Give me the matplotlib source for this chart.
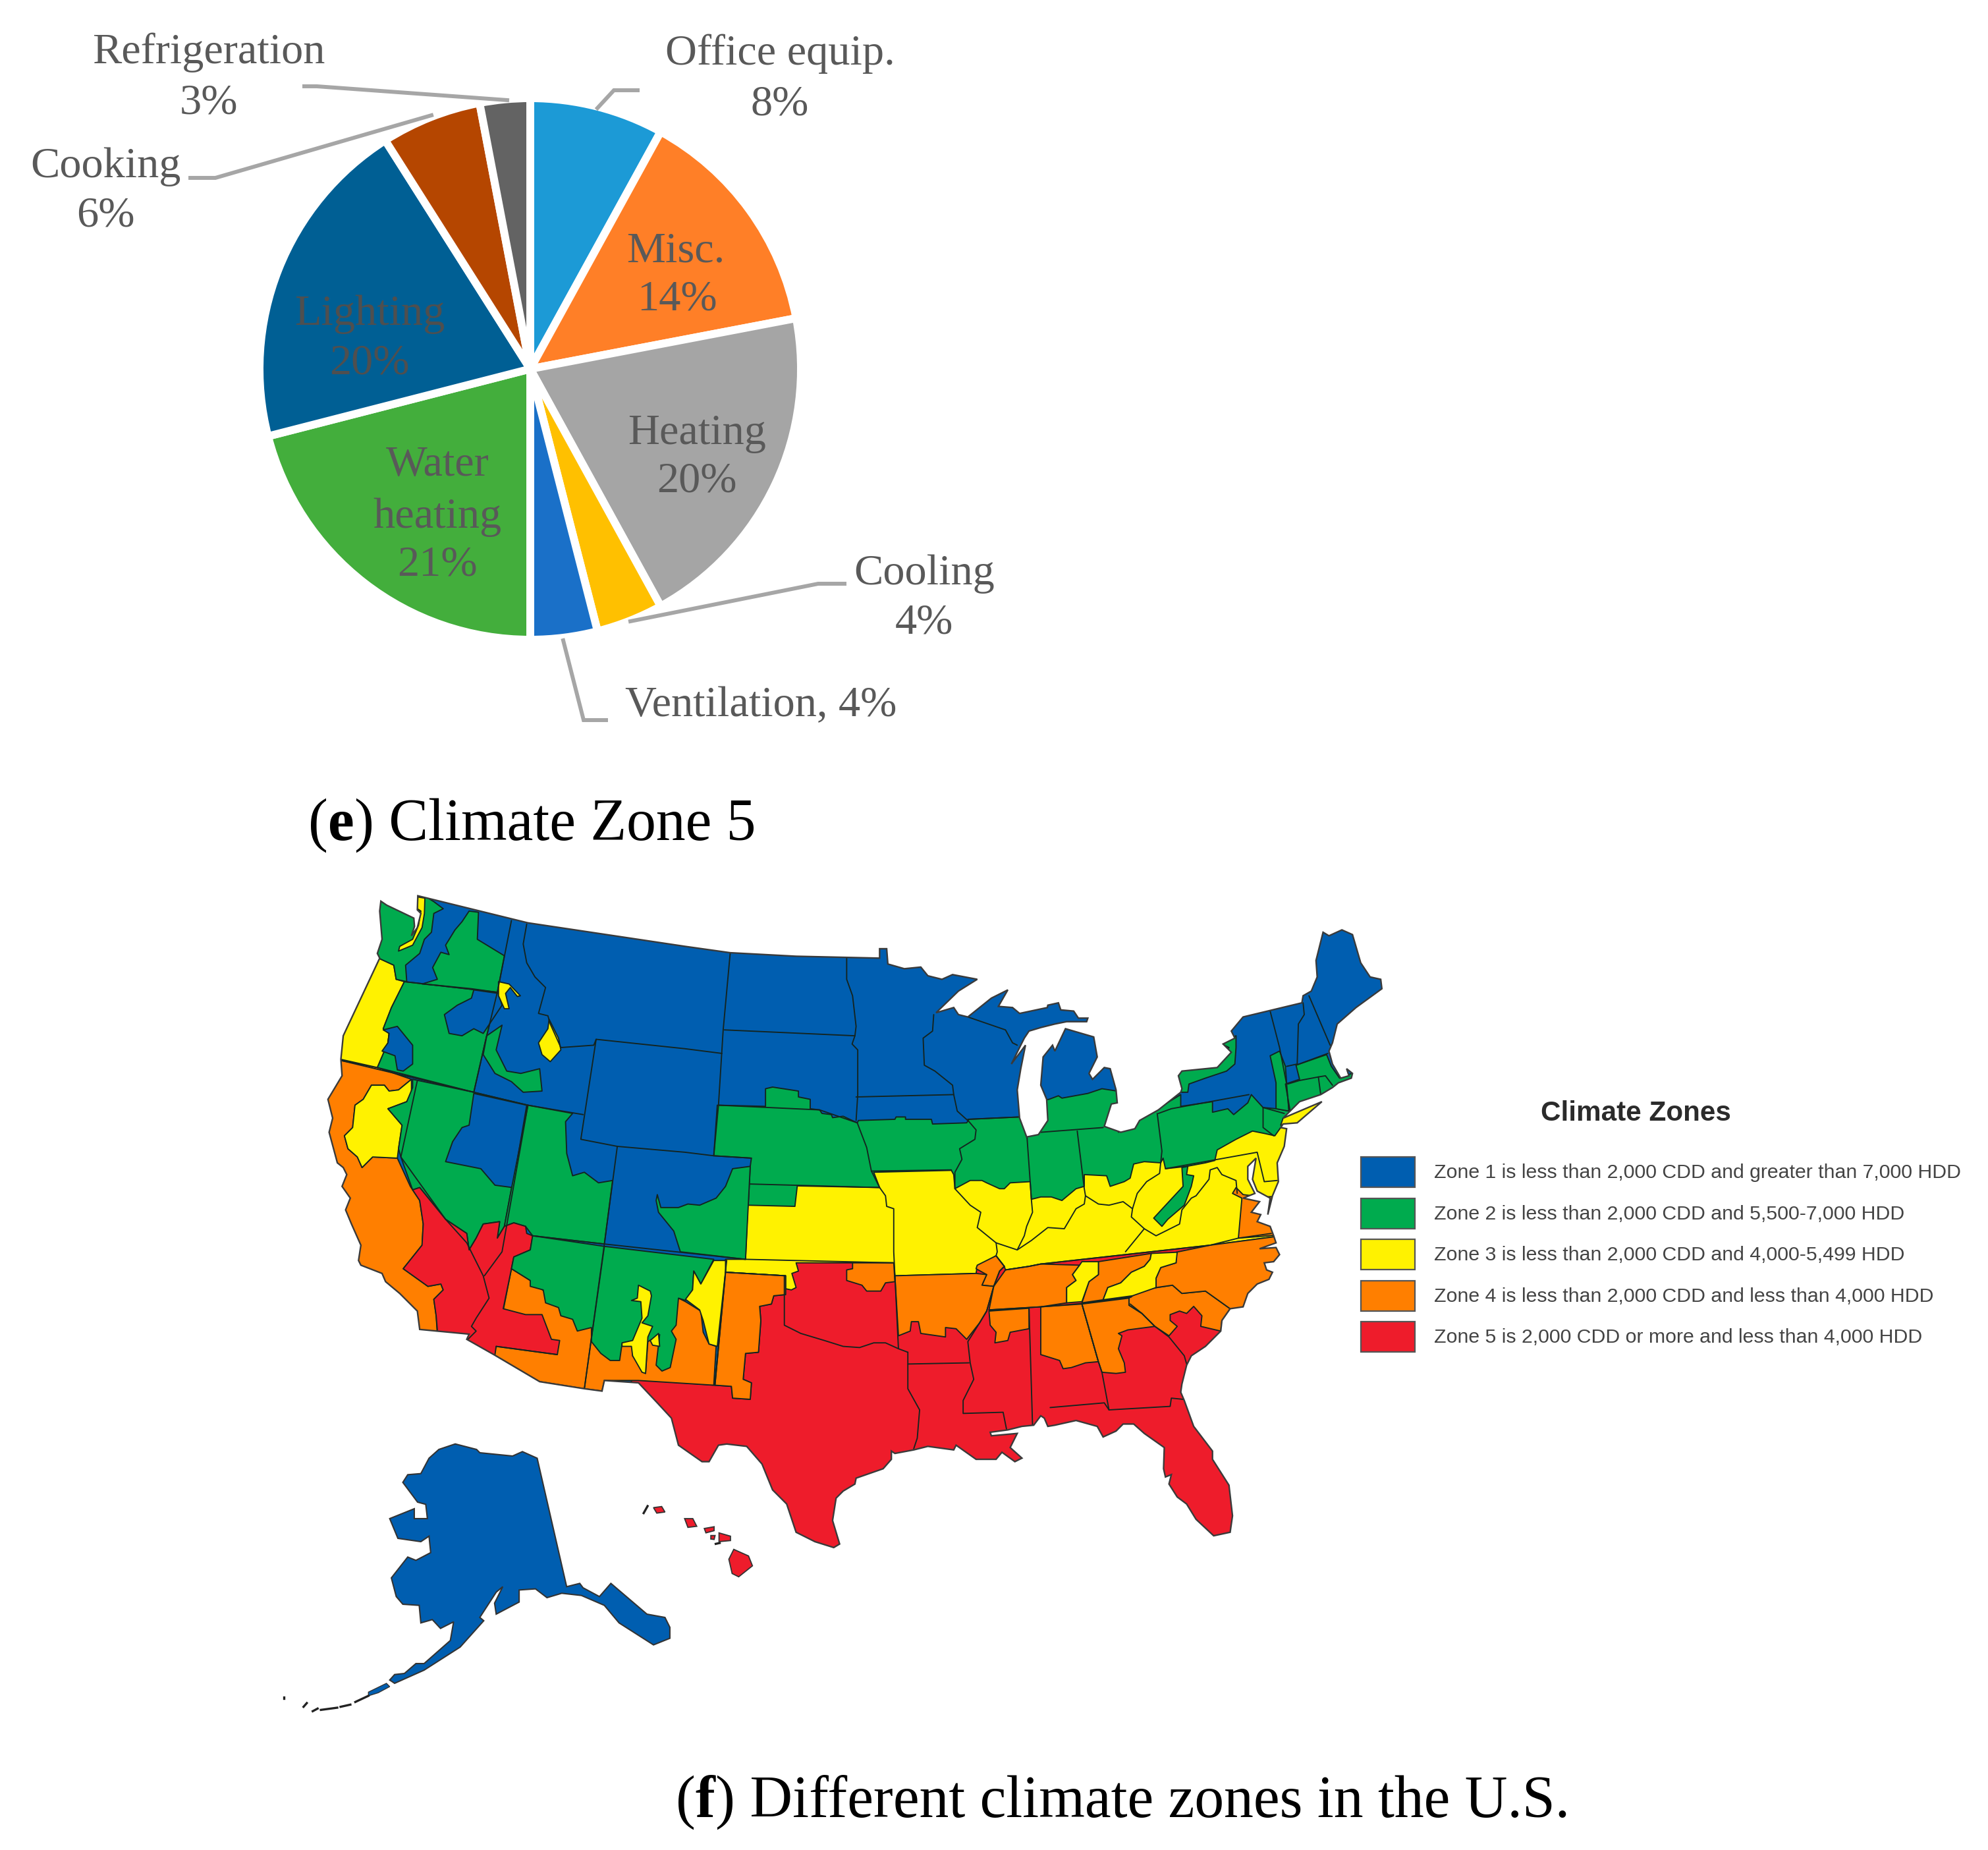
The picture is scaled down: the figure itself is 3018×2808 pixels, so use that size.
import matplotlib
matplotlib.use('Agg')
import matplotlib.pyplot as plt
from matplotlib.patches import Polygon, Rectangle

W, H = 3018, 2808
DPI = 100

# ---------- pie data ----------
pie_labels = ['Office equip.', 'Misc.', 'Heating', 'Cooling', 'Ventilation', 'Water heating', 'Lighting', 'Cooking', 'Refrigeration']
pie_values = [8, 14, 20, 4, 4, 21, 20, 6, 3]
pie_colors = ['#1C9AD6', '#FF7F27', '#A5A5A5', '#FFC000', '#1A70C8', '#43AE3C', '#005F94', '#B54600', '#636363']

# label text and reference position (x, y, colour)
pie_texts = [
    ('Office equip.', 1184, 82, '#595959'), ('8%', 1184, 159, '#595959'),
    ('Refrigeration', 317, 80, '#595959'), ('3%', 317, 157, '#595959'),
    ('Cooking', 160, 253, '#595959'), ('6%', 160, 328, '#595959'),
    ('Misc.', 1026, 382, '#595959'), ('14%', 1028, 455, '#595959'),
    ('Heating', 1058, 658, '#595959'), ('20%', 1058, 731, '#595959'),
    ('Lighting', 561, 477, '#4f4f4f'), ('20%', 561, 552, '#4f4f4f'),
    ('Water', 664, 706, '#595959'), ('heating', 664, 785, '#595959'), ('21%', 664, 858, '#595959'),
    ('Cooling', 1403, 871, '#595959'), ('4%', 1403, 946, '#595959'),
    ('Ventilation, 4%', 1155, 1071, '#595959'),
]
leaders = [
    [(907, 164), (932, 137), (968, 137)],
    [(770, 152), (481, 131), (462, 131)],
    [(655, 175), (327, 270), (289, 270)],
    [(957, 943), (1242, 886), (1282, 886)],
    [(855, 972), (886, 1093), (920, 1093)],
]

# ---------- legend data ----------
legend_title = 'Climate Zones'
zone_labels = [
    'Zone 1 is less than 2,000 CDD and greater than 7,000 HDD',
    'Zone 2 is less than 2,000 CDD and 5,500-7,000 HDD',
    'Zone 3 is less than 2,000 CDD and 4,000-5,499 HDD',
    'Zone 4 is less than 2,000 CDD and less than 4,000 HDD',
    'Zone 5 is 2,000 CDD or more and less than 4,000 HDD',
]
BLUE, GREEN, YELLOW, ORANGE, RED = '#005EB0', '#00AB4E', '#FFF200', '#FF7F00', '#EE1C2B'
zone_colors = [BLUE, GREEN, YELLOW, ORANGE, RED]
legend_y = [1779, 1842, 1904, 1967, 2029]

# ---------- map outlines, per zoom tile ----------
TILES = {'A': (480, 1340), 'B': (1030, 1340), 'C': (1580, 1340),
         'D': (480, 1890), 'E': (1030, 1890), 'F': (1580, 1890)}
S = 560 / 1568

conus = [
 ('A', [(275,78),(300,95),(415,150),(418,185),(405,225),(430,190),(445,130),(430,115),(432,55),(900,170),(1568,270)]),
 ('B', [(220,297),(500,312),(855,320),(855,280),(885,280),(890,345),(960,365),(1030,358),(1060,395),(1120,410),(1165,390),(1270,410),(1190,460),(1095,552),(1170,530),(1190,560),(1230,570),(1330,490),(1400,455),(1360,525),(1420,530),(1450,555),(1568,530)]),
 ('C', [(30,520),(75,510),(85,540),(140,545),(160,575),(200,575),(195,590),(110,590),(60,600),(0,615)]),
 ('B', [(1490,630),(1470,660),(1415,770),(1475,690),(1455,790),(1440,880),(1450,1000),(1480,1080),(1530,1070)]),
 ('C', [(30,1010),(25,920),(0,860),(10,740),(50,690),(60,715),(105,620),(225,655),(240,740),(205,810),(220,835),(270,785),(295,790),(320,880),(325,935),(300,940),(270,1035),(340,1060),(400,1045),(420,1010),(500,965),(595,890),(600,875),(585,820),(600,800),(750,785),(810,720),(775,685),(825,660),(810,630),(860,570),(1110,510),(1115,480),(1150,460),(1175,400),(1170,330),(1200,210),(1225,225),(1280,200),(1325,220),(1360,340),(1400,400),(1445,410),(1450,450),(1340,530),(1260,600),(1240,680),(1225,715),(1240,770),(1275,830),(1310,820),(1300,790),(1325,810),(1320,830),(1265,850),(1240,870),(1190,900),(1100,930),(1060,970),(1030,1000),(1195,930),(1090,1020),(1030,1025),(1020,1040),(1045,1045),(1035,1120),(1005,1190),(1010,1270),(985,1330),(965,1410),(975,1340),(920,1310),(900,1260),(915,1170),(880,1205),(880,1260),(910,1320),(860,1340),(930,1355),(895,1400),(935,1410),(920,1440),(975,1460),(990,1500),(1000,1530)]),
 ('F', [(930,15),(1000,10),(1015,40),(990,70),(950,75),(960,105),(985,115),(970,145),(920,165),(880,205),(860,262),(805,270),(770,320),(765,365),(700,430),(640,470),(620,510),(600,590),(595,625),(610,660),(650,770),(730,875),(730,910),(800,1020),(815,1150),(805,1220),(735,1235),(660,1165),(620,1100),(580,1070),(545,1015),(555,975),(530,985),(522,950),(525,860),(440,800),(395,760),(350,760),(320,790),(265,815),(240,770),(150,745),(60,765),(30,770),(15,735),(0,725)]),
 ('E', [(1510,765),(1460,770),(1400,785),(1325,795),(1330,810),(1440,800),(1410,860),(1460,905),(1430,920),(1375,880),(1350,910),(1265,910),(1180,850),(1170,870),(1060,855),(1000,870),(920,885),(905,875),(905,910),(870,950),(755,990),(750,1015),(700,1045),(670,1075),(655,1170),(685,1270),(660,1285),(580,1260),(500,1220),(460,1100),(400,1040),(355,930),(290,855),(205,845),(170,850),(130,920),(100,920),(0,850)]),
 ('D', [(1510,735),(1450,670),(1370,585),(1225,575),(1215,620),(1140,610),(950,580),(755,465),(640,400),(650,378),(440,358),(430,280),(355,205),(295,155),(280,120),(190,85),(180,65),(190,0)]),
 ('A', [(150,1450),(125,1390),(145,1340),(110,1290),(130,1240),(115,1210),(90,1190),(55,1060),(70,1000),(50,920),(110,820),(105,750),(115,650),(270,320),(260,300),(280,240),(270,120)]),
]

green_central = [
 ('B', [(165,945),(370,950),(370,875),(400,868),(510,885),(510,910),(560,920),(560,960),(600,965),(610,980),(650,985),(655,998),(700,992),(760,1020),(765,1010),(920,1005),(925,995),(965,995),(965,1005),(1075,1005),(1080,1025),(1225,1020),(1235,1005),(1450,995),(1480,1080)]),
 ('C', [(-20,1060),(10,925),(35,920),(75,905),(90,915),(200,895),(260,875),(325,885),(330,1060),(595,900),(595,950),(730,930),(730,975),(795,960),(820,985),(880,935),(895,900),(945,955),(1000,960),(1060,970),(1100,1100),(1100,1600)]),
 ('B', [(285,1600),(305,1205),(310,1170),(150,1160)]),
]
yellow_band = [
 ('B', [(295,1370),(495,1375),(505,1288),(855,1295),(830,1230),(1160,1222),(1170,1240),(1175,1300),(1240,1265),(1290,1265),(1310,1275),(1365,1300),(1385,1300),(1410,1275),(1495,1270),(1500,1345)]),
 ('C', [(0,1335),(45,1335),(90,1350),(150,1300),(185,1290),(185,1240),(280,1245),(295,1290),(355,1270),(380,1255),(395,1195),(440,1185),(510,1190),(520,1170),(530,1215),(620,1205),(700,1190),(740,1180),(750,1135),(830,1090),(900,1055),(950,1065),(995,1075),(1020,1040),(1100,1040),(1100,1800)]),
 ('E', [(200,260),(200,60),(285,60)]),
]
red_base = [
 ('E', [(200,115),(455,130),(455,185),(480,190),(500,180),(482,120),(510,110),(500,75),(915,75),(920,130),(1265,120),(1270,90),(1350,45),(1385,90),(1390,105),(1490,90)]),
 ('F', [(0,80),(720,0),(1100,-50),(1100,1300)]),
 ('E', [(-200,1300),(-200,570),(155,595)]),
]
orange_patches = [
 [('E', [(200,115),(455,130),(455,210),(405,215),(395,250),(345,260),(350,320),(340,455),(285,460),(275,570),(310,585),(305,655),(230,650),(225,600),(155,595)])],
 [('E', [(740,75),(915,75),(920,155),(880,160),(860,195),(800,195),(780,170),(715,150),(715,105),(740,100)])],
 [('E', [(1350,45),(1385,90),(1365,110),(1340,175),(1290,170),(1310,125),(1265,100),(1270,85)])],
 [('E', [(920,130),(1265,120),(1310,125),(1290,170),(1340,175),(1310,280),(1280,330),(1225,400),(1180,355),(1135,350),(1135,390),(1030,375),(1020,325),(990,325),(985,365),(935,385)])],
 [('E', [(1340,175),(1390,105),(1490,90)]), ('F', [(0,80),(165,85),(135,125),(150,150),(110,180),(110,245),(0,262)]), ('E', [(1320,275)])],
 [('E', [(1320,280),(1490,268),(1490,355),(1410,370),(1400,405),(1345,415),(1350,370),(1325,340)])],
 [('F', [(0,262),(175,250),(245,495),(190,500),(130,520),(95,525),(80,490),(0,465)])],
 [('F', [(175,250),(375,225),(375,255),(430,290),(485,345),(370,360),(330,375),(345,385),(330,440),(355,500),(360,540),(320,545),(260,540),(245,495)])],
 [('F', [(375,225),(430,190),(560,170),(600,205),(700,195),(805,270),(770,320),(765,365),(680,345),(685,300),(650,260),(620,290),(590,280),(550,295),(550,320),(580,345),(545,385),(485,345),(430,290),(375,255)])],
 [('F', [(245,70),(470,35),(465,60),(440,90),(385,115),(340,160),(285,180),(265,232),(175,245),(205,155),(245,125)])],
 [('F', [(575,30),(720,0),(1100,-50),(1100,262),(805,270),(700,195),(600,205),(560,170),(490,180),(490,140),(510,95),(575,75)])],
 [('C', [(840,1510),(855,1340),(815,1320),(830,1295),(860,1325),(940,1335),(1100,1330),(1100,1490)])],
]
yellow_strips = [
 [('F', [(175,70),(245,70),(245,125),(205,155),(175,240),(110,245),(110,180),(150,150),(135,125),(165,85)])],
 [('F', [(470,35),(580,30),(575,75),(510,95),(490,140),(490,180),(390,215),(265,232),(285,180),(340,160),(385,115),(440,90),(465,60)])],
 [('C', [(1030,1000),(1200,925),(1100,1030),(1020,1030)])],
]
green_appalachia = [('C', [(600,1210),(625,1205),(620,1240),(650,1245),(640,1290),(610,1370),(540,1430),(515,1460),(480,1425),(540,1360),(605,1290)])]
green_ontario = [('C', [(560,800),(750,770),(800,700),(760,680),(830,650),(830,700),(825,770),(790,800),(700,830),(630,855),(625,890),(560,890)])]
green_hudson = [('C', [(975,735),(1015,715),(1040,780),(1045,850),(1055,970),(1000,960),(1000,850)])]
green_mass = [('C', [(1085,775),(1215,730),(1235,780),(1270,830),(1400,780),(1400,860),(1240,880),(1060,970),(1040,855),(1100,835)])]

orange_calif = [('A', [(0,750),(105,755),(260,785),(405,835),(350,880),(310,885),(290,860),(235,860),(200,920),(165,945),(155,1040),(120,1075),(135,1130),(175,1165),(195,1210),(240,1165),(345,1170),(400,1290),(440,1350),(455,1450),(450,1540)]),
                ('D', [(370,100),(475,175),(530,165),(540,190),(500,230),(510,300),(515,380),(300,400),(0,300)])]
yellow_ncal = [('A', [(235,860),(290,860),(310,885),(350,880),(405,835),(405,890),(385,930),(305,960),(365,1030),(350,1130),(345,1170),(240,1165),(195,1210),(175,1165),(135,1130),(120,1075),(155,1040),(165,945),(200,920)])]
yellow_oregon = [('A', [(265,320),(330,350),(340,410),(375,420),(320,530),(285,620),(310,640),(305,680),(260,785),(60,740),(115,500),(200,320)])]
green_oregon = [('A', [(375,420),(770,465),(720,670),(670,890),(260,785),(305,680),(310,640),(285,620),(320,530)])]
blue_or_east = [('A', [(670,455),(775,470),(790,520),(710,640),(670,620),(620,650),(565,640),(545,560),(600,520),(660,490)])]
blue_or_cent = [('A', [(345,610),(410,690),(410,770),(370,800),(345,795),(335,735),(280,715),(305,680),(310,640),(285,625)])]
green_wa_west = [('A', [(250,60),(460,55),(500,80),(540,110),(500,130),(490,210),(460,240),(440,300),(380,350),(385,420),(340,410),(330,350),(265,320),(230,200)])]
yellow_puget = [('A', [(432,60),(462,65),(460,130),(450,190),(410,265),(350,290),(355,270),(410,240),(435,180),(445,120),(430,110)])]
green_wa_east = [('A', [(650,120),(690,125),(685,240),(800,310),(770,465),(660,450),(510,435),(450,430),(515,410),(495,360),(530,295),(565,305),(550,265),(590,200),(620,165)])]
green_ncal_nv = [('A', [(410,835),(670,890),(900,945),(830,1300),(800,1460),(770,1510),(780,1440),(710,1450),(680,1510),(650,1560),(640,1490),(550,1430),(440,1295),(410,1305),(360,1165),(350,1130),(365,1030),(305,960),(385,930),(410,870)])]
blue_nv = [('A', [(670,895),(895,945),(835,1295),(760,1285),(700,1215),(550,1185),(580,1100),(620,1040),(650,1030)])]
green_ut = [('A', [(900,945),(1090,980),(1060,1015),(1065,1150),(1090,1245),(1140,1230),(1200,1275),(1260,1265),(1225,1535),(920,1500),(890,1460),(840,1445),(800,1460),(830,1300)])]
green_id_strip = [('A', [(725,650),(790,605),(765,710),(810,800),(870,810),(950,790),(960,885),(880,890),(830,845),(760,810),(710,730)])]
yellow_id = [('A', [(775,420),(820,430),(868,480),(855,483),(825,445),(805,470),(820,535),(800,535),(775,480)])]
yellow_mt = [('A', [(990,580),(1030,660),(1040,710),(995,760),(960,730),(945,680),(985,620)])]
orange_az_nm = [('D', [(830,100),(910,150),(1170,350),(1400,300),(1540,225)]), ('E', [(0,225),(30,240),(95,280),(105,370),(130,420),(160,430),(150,595),(-170,575)]), ('D', [(1225,575),(1215,620),(1140,610),(950,580),(755,465),(765,430)])]
red_sw = [('A', [(410,1305),(440,1295),(550,1430),(640,1490),(650,1560),(680,1510),(710,1450),(780,1440),(770,1510),(800,1460),(840,1445),(890,1460),(895,1490),(920,1500)]),
          ('D', [(910,20),(840,50),(830,100),(795,270),(890,295),(960,295),(1000,400),(1035,405),(1025,465),(765,430),(755,500),(500,420),(515,360),(510,300),(500,230),(540,190),(530,165),(475,175),(370,100)]),
          ('A', [(450,1540),(455,1450),(440,1350)])]
green_az_nm = [('D', [(920,-40),(1225,5),(1690,60),(1635,165),(1605,110),(1600,190),(1570,235),(1540,225),(1530,340),(1510,365),(1530,400),(1505,520),(1470,535),(1445,510),(1460,380),(1410,410),(1400,545),(1345,470),(1345,415),(1300,420),(1290,490),(1250,490),(1210,460),(1170,410),(1170,350),(1110,365),(1090,315),(1040,300),(1030,265),(975,245),(965,190),(910,175),(910,150),(830,100),(840,50),(910,20)])]
yellow_nm_a = [('D', [(1370,170),(1420,195),(1425,215),(1410,300),(1385,330),(1430,345),(1410,390),(1400,545),(1385,540),(1345,470),(1340,430),(1300,430),(1300,415),(1345,405),(1385,310),(1380,240),(1340,235),(1365,225)])]
yellow_nm_b = [('D', [(1420,405),(1455,375),(1460,430),(1430,425)])]
yellow_nm_c = [('E', [(30,230),(60,190),(65,110),(95,165),(150,65),(205,65),(165,430),(130,420),(105,320),(90,275)])]
green_se_co = [('B', [(305,1205),(230,1215),(200,1290),(160,1340),(90,1370),(40,1365),(0,1380)]), ('A', [(1465,1380),(1450,1325),(1445,1350),(1455,1400),(1520,1480),(1548,1568)]), ('E', [(285,60),(305,-335)])]

state_lines = [
 [('A', [(830,160),(780,415),(770,465),(720,670),(670,890)])],
 [('A', [(895,175),(880,260),(895,340),(930,400),(975,445),(945,555),(985,565),(995,600),(1040,700),(1180,690),(1190,665),(1568,705)]), ('B', [(185,725)])],
 [('A', [(1190,665),(1125,1090),(1280,1120),(1568,1145)]), ('B', [(150,1160),(310,1170)])],
 [('B', [(220,297),(190,625),(170,945),(150,1160)])],
 [('A', [(375,420),(770,465)])],
 [('A', [(105,755),(670,890),(900,945),(1135,985)])],
 [('A', [(430,840),(360,1165),(550,1430),(640,1530)]), ('D', [(710,130),(735,225),(680,310),(660,345),(680,365),(645,400)])],
 [('A', [(900,945),(790,1568)]), ('D', [(715,130)])],
 [('A', [(1280,1120),(1225,1535),(1140,2150)])],
 [('A', [(920,1500),(1225,1535)]), ('E', [(285,60),(915,75)])],
 [('B', [(195,625),(750,650)])],
 [('B', [(715,320),(715,410),(740,480),(755,610),(750,650),(738,685),(762,710),(762,900),(755,1010)])],
 [('B', [(170,945),(600,965),(760,1020),(800,1125),(820,1225),(855,1295),(880,1330),(885,1375),(915,1385),(915,1568)]), ('E', [(920,130),(935,440)])],
 [('B', [(305,1280),(855,1295)])],
 [('B', [(755,910),(1170,900)])],
 [('B', [(820,1225),(1160,1220)])],
 [('B', [(1085,560),(1080,630),(1040,660),(1045,775),(1090,800),(1165,860),(1170,900),(1185,970),(1235,1015),(1265,1050),(1260,1090),(1195,1130),(1205,1175),(1175,1230),(1175,1300),(1240,1370),(1285,1400),(1270,1465),(1350,1530),(1355,1568)]), ('E', [(1350,45),(1385,90),(1365,110),(1340,175),(1310,280),(1280,330),(1230,410),(1240,500),(1255,570),(1210,660),(1210,715),(1380,710),(1395,785)])],
 [('B', [(1230,1005),(1450,995)])],
 [('B', [(1230,570),(1390,625),(1420,680),(1440,690)])],
 [('B', [(1480,1060),(1495,1270),(1500,1345),(1505,1400),(1480,1460),(1470,1500),(1440,1560)])],
 [('B', [(1350,1530),(1440,1560),(1500,1520)]), ('C', [(30,1465),(100,1470),(150,1385),(185,1365),(190,1330),(245,1365),(290,1370),(350,1355),(390,1385),(410,1320),(450,1270),(505,1235),(515,1140),(495,980)])],
 [('C', [(0,1060),(265,1040)])],
 [('C', [(155,1055),(185,1300),(190,1330)])],
 [('C', [(390,1385),(385,1420),(440,1470),(490,1500),(590,1450),(600,1390),(640,1340),(660,1330),(715,1260),(720,1220),(750,1210),(770,1240),(830,1265),(835,1320)])],
 [('C', [(440,1470),(360,1568)])],
 [('C', [(530,1215),(920,1145),(950,1270),(1005,1265)])],
 [('C', [(500,980),(555,960),(885,900)])],
 [('C', [(945,955),(945,1040),(990,1075)])],
 [('C', [(945,955),(1035,980)])],
 [('C', [(975,545),(1015,700),(1045,855),(1055,970)])],
 [('C', [(1115,510),(1120,560),(1095,600),(1090,770)])],
 [('C', [(1140,480),(1230,690)])],
 [('C', [(1045,780),(1090,770)])],
 [('C', [(1085,775),(1220,725)])],
 [('C', [(1100,840),(1050,855)])],
 [('C', [(1100,840),(1180,825),(1210,820),(1240,860)])],
 [('C', [(1180,825),(1190,900)])],
 [('E', [(1390,105),(1490,90)]), ('F', [(0,80),(720,0)]), ('C', [(840,1510),(980,1490)])],
 [('E', [(1320,275)]), ('F', [(0,262),(175,248),(385,220)])],
 [('F', [(175,250),(245,495),(260,540),(290,700)])],
 [('F', [(380,250),(430,290),(485,345),(545,390),(610,470),(620,505)])],
 [('F', [(40,690),(270,670),(290,700),(550,685),(555,650),(605,655)])],
 [('E', [(1490,268),(1505,765)])],
 [('E', [(975,505),(1235,500)])],
 [('E', [(975,455),(975,610),(1025,700),(1015,820),(1000,865)])],
 [('E', [(450,130),(450,340),(520,375),(620,405),(700,430),(770,435),(830,415),(880,415),(935,440),(975,455)])],
 [('E', [(200,115),(155,595)])],
 [('D', [(1225,5),(1140,610)])],
 [('E', [(200,65),(200,115),(455,130)])],
 [('D', [(765,430),(1025,465)])],
]

# Alaska and Hawaii: tile H has its own scales
H0 = (420, 2170)
HSX, HSY = 780 / 1568, 450 / 1350
alaska = [(545,65),(610,90),(620,105),(720,120),(750,100),(795,130),(885,715),(925,700),(935,720),(985,760),(1020,700),(1130,840),(1185,855),(1200,900),(1200,950),(1150,980),(1045,880),(1000,800),(930,755),(870,745),(825,765),(790,725),(740,730),(740,785),(670,840),(665,790),(690,715),(670,740),(620,855),(632,870),(560,990),(450,1095),(360,1155),(345,1140),(360,1115),(390,1110),(425,1065),(450,1065),(530,960),(540,875),(500,905),(475,865),(440,880),(435,800),(385,795),(365,760),(350,675),(400,580),(425,595),(470,560),(465,485),(440,510),(370,495),(345,405),(420,360),(420,405),(460,405),(455,340),(430,330),(385,240),(400,205),(440,200),(465,130),(495,90)]
aleut_big = [(280,1195),(335,1155),(345,1170),(310,1198),(280,1212)]
aleut_dash = [[(280,1212),(240,1240)], [(225,1252),(195,1262)], [(185,1266),(135,1276)], [(125,1270),(110,1282)], [(92,1245),(82,1262)], [(22,1218),(22,1224)]]
hawaii = [
 [(1395,545),(1440,575),(1452,620),(1410,670),(1390,655),(1380,590)],
 [(1350,470),(1385,485),(1385,505),(1350,510)],
 [(1305,450),(1335,442),(1335,460),(1310,470)],
 [(1325,482),(1338,482),(1335,500),(1325,498)],
 [(1245,405),(1270,405),(1282,440),(1255,445)],
 [(1150,355),(1175,350),(1185,375),(1160,380)],
]
hawaii_dash = [[(1120,380),(1132,348)], [(1340,520),(1352,516)]]

def tr(segs):
    out = []
    for t, pts in segs:
        ox, oy = TILES[t]
        out += [(ox + x * S, oy + y * S) for x, y in pts]
    return out

def trh(pts):
    return [(H0[0] + x * HSX, H0[1] + y * HSY) for x, y in pts]

# ---------- figure ----------
plt.rcParams['font.family'] = ['Liberation Serif', 'DejaVu Serif']
fig = plt.figure(figsize=(W / DPI, H / DPI), dpi=DPI, facecolor='white')

# pie
CX, CY, R = 805, 560, 411
box = 1.1 * R
axp = fig.add_axes([(CX - box) / W, 1 - (CY + box) / H, 2 * box / W, 2 * box / H])
axp.pie(pie_values, colors=pie_colors, startangle=90, counterclock=False,
        wedgeprops=dict(edgecolor='white', linewidth=8.6))
axp.set_xlim(-1.1, 1.1)
axp.set_ylim(-1.1, 1.1)

# overlay in picture pixels
m = fig.add_axes([0, 0, 1, 1], facecolor='none')
m.set_xlim(0, W)
m.set_ylim(H, 0)
m.axis('off')

for line in leaders:
    m.plot(*zip(*line), color='#A6A6A6', lw=4.3, solid_joinstyle='miter', zorder=3)
for txt, x, y, c in pie_texts:
    m.text(x, y, txt, ha='center', va='center', fontsize=47.8, color=c, zorder=4)

EDGE = '#14241f'
LW = 1.35
outline = Polygon(tr(conus), closed=True, facecolor=BLUE, edgecolor='none', zorder=5)
m.add_patch(outline)

def zone(segs, color, z=6):
    p = Polygon(tr(segs), closed=True, facecolor=color, edgecolor=EDGE, linewidth=LW, zorder=z, joinstyle='round')
    m.add_patch(p)
    p.set_clip_path(outline)

layers = [
    (green_central, GREEN), (yellow_band, YELLOW), (red_base, RED),
] + [(o, ORANGE) for o in orange_patches] + [
    (orange_calif, ORANGE), (yellow_ncal, YELLOW), (yellow_oregon, YELLOW), (green_oregon, GREEN),
    (blue_or_east, BLUE), (blue_or_cent, BLUE), (green_wa_west, GREEN), (yellow_puget, YELLOW),
    (green_wa_east, GREEN), (green_ncal_nv, GREEN), (blue_nv, BLUE), (green_ut, GREEN),
    (green_id_strip, GREEN), (yellow_id, YELLOW), (yellow_mt, YELLOW), (orange_az_nm, ORANGE),
    (red_sw, RED), (green_az_nm, GREEN), (yellow_nm_a, YELLOW), (yellow_nm_b, YELLOW),
    (yellow_nm_c, YELLOW), (green_se_co, GREEN), (orange_patches[0], ORANGE),
] + [(s, YELLOW) for s in yellow_strips] + [
    (green_appalachia, GREEN), (green_ontario, GREEN), (green_hudson, GREEN), (green_mass, GREEN),
]
for i, (segs, col) in enumerate(layers):
    zone(segs, col, 6 + i * 0.01)

for ln in state_lines:
    l, = m.plot(*zip(*tr(ln)), color=EDGE, lw=LW, zorder=8, solid_capstyle='round')
    l.set_clip_path(outline)

m.add_patch(Polygon(tr(conus), closed=True, facecolor='none', edgecolor='#3a3a3a', linewidth=1.7, zorder=9))

m.add_patch(Polygon(trh(alaska), closed=True, facecolor=BLUE, edgecolor='#333333', linewidth=1.5, zorder=6))
m.add_patch(Polygon(trh(aleut_big), closed=True, facecolor=BLUE, edgecolor='#333333', linewidth=1.0, zorder=6))
for d in aleut_dash + hawaii_dash:
    m.plot(*zip(*trh(d)), color='#222222', lw=2.4, zorder=6)
for isl in hawaii:
    m.add_patch(Polygon(trh(isl), closed=True, facecolor=RED, edgecolor='#333333', linewidth=1.3, zorder=6))

# legend
m.text(2483, 1690, legend_title, ha='center', va='center', fontsize=30.4, fontweight='bold',
       family=['Liberation Sans'], color='#2b2b2b', zorder=6)
for y, c, lab in zip(legend_y, zone_colors, zone_labels):
    m.add_patch(Rectangle((2066, y - 23), 82, 46, facecolor=c, edgecolor='#555555', linewidth=1.6, zorder=6))
    m.text(2177, y + 1, lab, ha='left', va='center', fontsize=21.8, family=['Liberation Sans'], color='#444444', zorder=6)

# captions with bold letter
def caption(x, y, parts, size):
    r = fig.canvas.get_renderer()
    for s, w in parts:
        t = m.text(x, y, s, ha='left', va='center_baseline', fontsize=size, fontweight=w, color='black', zorder=6)
        x = t.get_window_extent(r).x1

caption(468, 1243, [('(', 'normal'), ('e', 'bold'), (') Climate Zone 5', 'normal')], 64.5)
caption(1026, 2726, [('(', 'normal'), ('f', 'bold'), (') Different climate zones in the U.S.', 'normal')], 64.5)

fig.savefig('out.png', dpi=DPI, facecolor='white')
